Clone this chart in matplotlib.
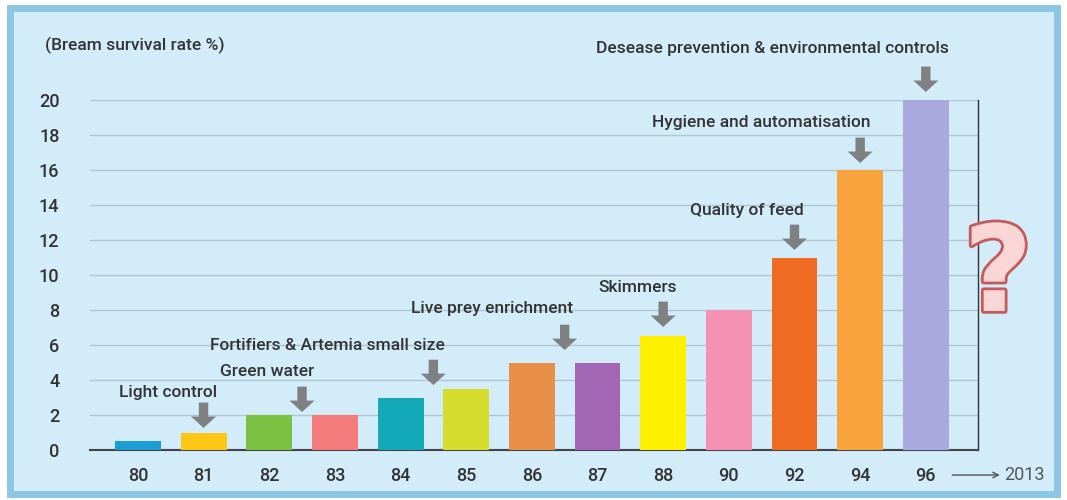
import matplotlib
matplotlib.use('Agg')
import matplotlib.pyplot as plt
import matplotlib.patheffects as pe
from matplotlib.patches import Rectangle

# Du lieu doc tu hinh
years = ['80', '81', '82', '83', '84', '85', '86', '87', '88', '90', '92', '94', '96']
survival = [0.5, 1.0, 2.0, 2.0, 3.0, 3.5, 5.0, 5.0, 6.5, 8.0, 11.0, 16.0, 20.0]
bar_colors = ['#1b9dd3', '#ffc513', '#7cc242', '#f47b7b', '#13a9b9', '#d5dc2c',
              '#e8904a', '#a266b5', '#fff000', '#f592b4', '#f06b22', '#f9a33e', '#a9a9dd']

# Cac moc cai tien (nhan, vi tri chu, vi tri mui ten)
notes = ['Light control', 'Green water', 'Fortifiers & Artemia small size',
         'Live prey enrichment', 'Skimmers', 'Quality of feed',
         'Hygiene and automatisation', 'Desease prevention & environmental controls']
note_x = [0.46, 1.96, 2.89, 5.40, 7.61, 9.28, 9.50, 9.67]
note_y = [3.31, 4.46, 6.00, 8.06, 9.26, 13.71, 18.74, 22.97]
arrow_x = [1.0, 2.5, 4.5, 6.5, 8.0, 10.0, 11.0, 12.0]
arrow_tip = [1.26, 2.17, 3.71, 5.71, 7.03, 11.43, 16.4, 20.46]

FONT = ['Roboto', 'DejaVu Sans']
TXT = '#333333'

fig = plt.figure(figsize=(10.67, 5), dpi=100)
fig.patch.set_facecolor('white')
# Khung nen xanh nhat
fig.patches.append(Rectangle((0.009, 0.012), 0.982, 0.972, transform=fig.transFigure,
                             facecolor='#d3ecf9', edgecolor='#8cc6e4', lw=5, zorder=-5))

ax = fig.add_axes([0.0843, 0.1, 0.832, 0.7])
ax.set_facecolor('none')
x = list(range(len(years)))
ax.bar(x, survival, width=0.7, color=bar_colors, zorder=3)

ax.set_xlim(-0.73, 12.79)
ax.set_ylim(0, 20)
ax.set_yticks(range(0, 21, 2))
ax.set_xticks(x)
ax.set_xticklabels(years)
ax.grid(axis='y', color='#b3c6d0', lw=1, zorder=1)
ax.tick_params(length=0, labelsize=13, colors=TXT, pad=12)
for lab in ax.get_xticklabels() + ax.get_yticklabels():
    lab.set_family(FONT)
    lab.set_fontweight('medium')
ax.tick_params(axis='y', pad=22)
for s in ['top', 'left']:
    ax.spines[s].set_visible(False)
ax.spines['bottom'].set_color('#444444')
ax.spines['bottom'].set_linewidth(1.5)
ax.spines['right'].set_color('#333333')
ax.spines['right'].set_linewidth(1.0)

# Nhan + mui ten xam
for lbl, tx, ty, axx, tip in zip(notes, note_x, note_y, arrow_x, arrow_tip):
    ax.text(tx, ty, lbl, ha='center', va='center', fontsize=12.5, fontweight='medium',
            color=TXT, family=FONT, clip_on=False, zorder=5)
    ax.annotate('', xy=(axx, tip), xytext=(axx, tip + 1.45), annotation_clip=False,
                arrowprops=dict(arrowstyle='simple,head_width=1.2,head_length=0.55,tail_width=0.45',
                                mutation_scale=15, color='#7e8082', lw=0,
                                shrinkA=0, shrinkB=0), zorder=5)

fig.text(45 / 1067, 1 - 45 / 500, '(Bream survival rate %)', ha='left', va='center',
         fontsize=12.5, fontweight='medium', color=TXT, family=FONT)

# Mui ten -> 2013
ax.annotate('', xy=(13.17, -1.43), xytext=(12.36, -1.43), annotation_clip=False,
            arrowprops=dict(arrowstyle='->', color='#555555', lw=1))
ax.text(13.2, -1.43, '2013', ha='left', va='center', fontsize=13, color='#555555',
        family=FONT, clip_on=False)

# Dau hoi
fig.text(998 / 1067, 1 - 278 / 500, '?', ha='center', va='center', fontsize=86,
         fontweight='bold', color='#fad6d6', family='DejaVu Sans',
         path_effects=[pe.withStroke(linewidth=4, foreground='#c55a5a')])

fig.savefig('out.png', dpi=100)
